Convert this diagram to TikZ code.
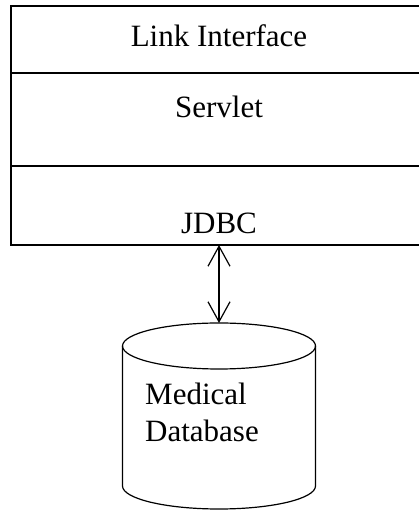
\documentclass[tikz,border=0pt]{standalone}
\usepackage{fontspec}
\setmainfont{Liberation Serif}
\usetikzlibrary{arrows.meta,positioning}

\begin{document}
\begin{tikzpicture}[
 x=1pt,y=1pt,
 layer/.style={draw,line width=1.2pt,outer sep=0pt,inner sep=0pt,minimum width=416pt},
 lbl/.style={anchor=base,inner sep=0pt,font=\fontsize{31}{37}\selectfont},
 arr/.style={{Straight Barb[length=20pt,width=22pt]}-{Straight Barb[length=20pt,width=22pt]},line width=1.2pt}
]
\useasboundingbox (0,0) rectangle (419,510);
% application stack
\node[layer,minimum height=67pt] (top) at (219,470.5) {};
\node[layer,minimum height=93pt,below=0pt of top] (mid) {};
\node[layer,minimum height=79pt,below=0pt of mid] (low) {};
\node[lbl] (link) at (219,463.3) {Link Interface};
\node[lbl] (servlet) at (219,392) {Servlet};
\node[lbl] (jdbc) at (219,276) {JDBC};
% database
\draw[line width=1.2pt] (122.5,164) -- (122.5,24) arc[start angle=180,end angle=360,x radius=96.5,y radius=23] -- (315.5,164);
\draw[line width=1.2pt] (219,164) ellipse[x radius=96.5,y radius=23];
\coordinate (dbtop) at (219,187);
\node[lbl,anchor=base west,align=left] (db) at (145,68) {Medical\\Database};
\draw[arr] (low.south) -- (dbtop);
\end{tikzpicture}
\end{document}
